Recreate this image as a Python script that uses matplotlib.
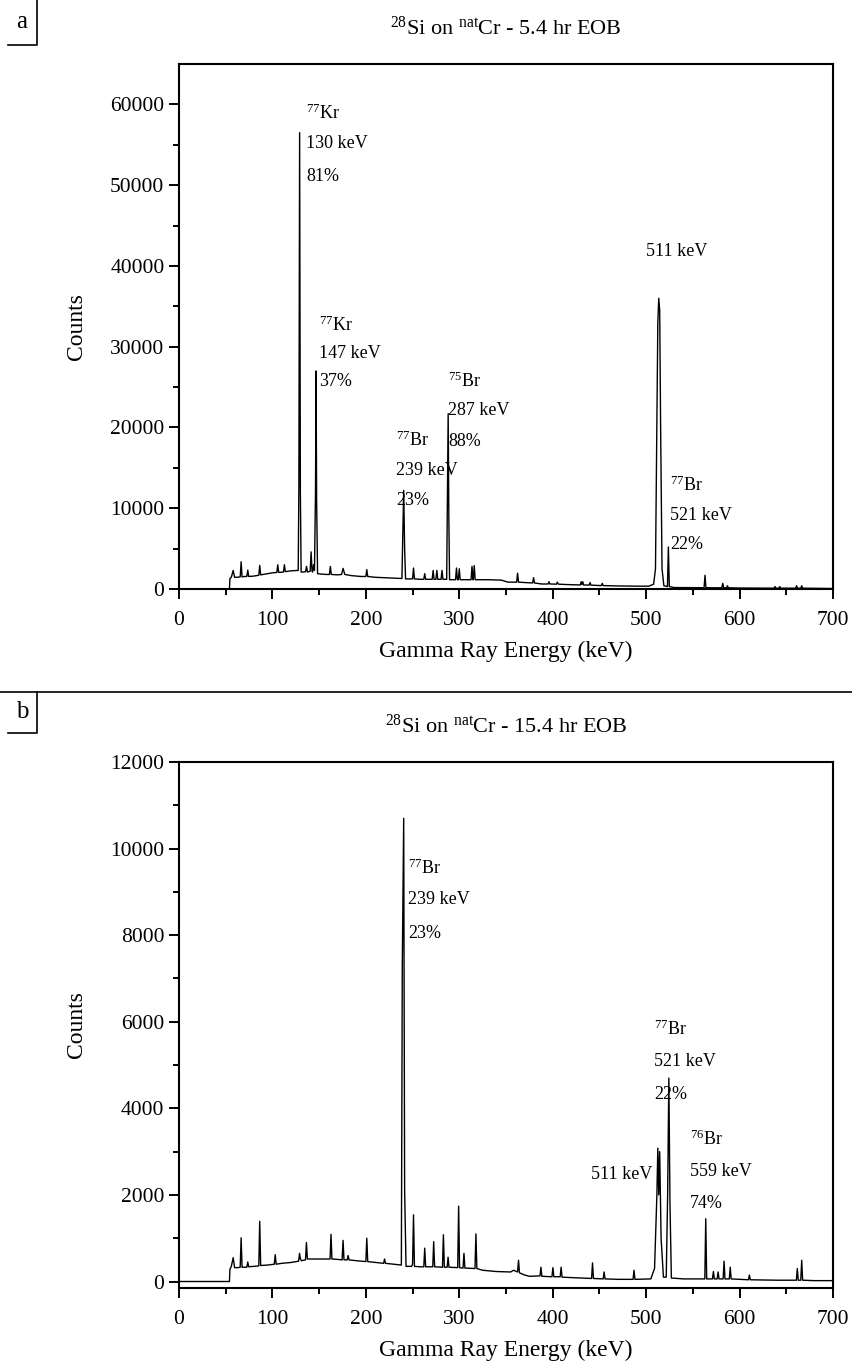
import matplotlib
matplotlib.use("Agg")
import matplotlib.pyplot as plt
from matplotlib.lines import Line2D

plt.rcParams["font.family"] = ["Liberation Serif", "DejaVu Serif"]
plt.rcParams["mathtext.fontset"] = "custom"
plt.rcParams["mathtext.rm"] = "Liberation Serif"
plt.rcParams["mathtext.default"] = "regular"

# ---- spectrum a : 5.4 hr EOB (vertices) ----
energy_a = [
    0, 54, 54.5, 56, 58, 59.5, 62, 65.5, 66.5, 67.5, 70, 72.6, 73.6, 74.6, 80,
    85.4, 86.4, 87.4, 95, 100, 104.7, 105.7, 106.7, 111.8, 112.8, 113.8, 120,
    127.6, 128.3, 129.1, 129.9, 130.7, 133, 135.5, 136.5, 137.5, 140.4, 141.4,
    142.4, 143, 144, 145, 146.1, 146.7, 147.3, 148.3, 152, 158, 161, 162, 163,
    170, 174, 175.6, 177.5, 185, 195, 200, 201, 202, 210, 220, 230, 238.6,
    239.6, 240.5, 241.5, 242.5, 246, 250, 251, 252, 258, 262, 263, 264, 268,
    271, 272, 273, 275, 276, 277, 280.5, 281.5, 282.5, 286.5, 287.4, 288.1,
    288.8, 289.6, 293, 296, 297, 298, 299, 300, 301, 305, 312.6, 313.6, 314.6,
    315, 316, 317, 330, 345, 352, 361.4, 362.4, 363.4, 370, 378.5, 379.5,
    380.5, 388, 395, 396, 397, 404, 405, 406, 415, 429.5, 430.5, 431.3, 432.2,
    433, 439, 440, 441, 452, 453, 454, 470, 490, 503, 508, 510, 511.5, 512.5,
    513.5, 514.5, 515.5, 517, 519, 522.8, 523.8, 524.8, 530, 545, 555, 562, 563,
    564, 570, 581, 582, 583, 586, 587, 588, 600, 637, 638, 639, 642, 643, 644,
    660, 661, 662, 665.5, 666.5, 667.5, 680, 700,
]
counts_a = [
    0, 0, 1300, 1450, 2300, 1450, 1450, 1500, 3370, 1500, 1550, 1550, 2340,
    1550, 1600, 1700, 2920, 1750, 1900, 2000, 2050, 3000, 2050, 2100, 3000,
    2150, 2250, 2300, 12600, 56500, 12000, 2100, 2100, 2150, 2800, 2100, 2200,
    4600, 2200, 2100, 3000, 2300, 12000, 27000, 11000, 1900, 1850, 1800, 1800,
    2800, 1800, 1750, 1800, 2550, 1800, 1650, 1550, 1550, 2400, 1550, 1450,
    1400, 1350, 1300, 7000, 12200, 5000, 1250, 1250, 1250, 2600, 1250, 1200,
    1200, 1900, 1200, 1200, 1200, 2300, 1200, 1200, 2300, 1200, 1200, 2300,
    1200, 1200, 12000, 21700, 9000, 1150, 1150, 1150, 2600, 1150, 1150, 2500,
    1150, 1150, 1150, 2800, 1150, 1150, 2900, 1150, 1150, 1100, 850, 850, 1960,
    850, 800, 750, 1400, 750, 620, 620, 900, 620, 600, 850, 600, 550, 500, 900,
    550, 900, 500, 480, 800, 480, 420, 700, 420, 380, 350, 350, 600, 2500,
    20000, 33000, 36000, 34500, 20000, 2500, 400, 300, 5200, 300, 180, 170,
    160, 160, 1700, 160, 150, 150, 700, 150, 150, 400, 150, 120, 100, 300, 100,
    100, 300, 100, 100, 400, 100, 100, 400, 100, 80, 60,
]

# ---- spectrum b : 15.4 hr EOB ----
energy_b = [
    0, 54, 54.5, 56, 58, 59.5, 63, 65.5, 66.5, 67.5, 72.6, 73.6, 74.6, 80,
    85.4, 86.4, 87.4, 95, 102, 103, 104, 110, 120, 128, 129, 130, 131, 135.4,
    136.4, 137.4, 142, 150, 161.7, 162.7, 163.7, 170, 174.6, 175.6, 176.6, 180,
    181, 182, 190, 200, 201, 202, 210, 219, 220, 221, 230, 238, 239, 240.5,
    241.5, 243, 249, 250, 251, 252, 258, 262, 263, 264, 271.6, 272.6, 273.6,
    282, 283, 284, 287, 288, 289, 298.3, 299.3, 300.3, 304, 305, 306, 316.8,
    317.8, 318.8, 325, 340, 355, 358, 362.4, 363.4, 364.4, 370, 375, 386.4,
    387.4, 388.4, 399.2, 400.2, 401.2, 408, 409, 410, 430, 441.6, 442.6, 443.6,
    454, 455, 456, 470, 486, 487, 488, 505, 509, 511.5, 512.5, 513.5, 514.5,
    516, 518.5, 521.5, 523, 524.3, 525.5, 527, 540, 562.8, 563.8, 564.8, 571,
    572, 573, 576, 577, 578, 582.4, 583.4, 584.4, 589, 590, 591, 600, 609.5,
    610.5, 611.5, 640, 660.8, 661.8, 662.8, 665.5, 666.5, 667.5, 680, 700,
]
counts_b = [
    0, 0, 280, 350, 550, 320, 320, 330, 1010, 330, 330, 450, 340, 350, 360,
    1390, 370, 380, 400, 620, 400, 420, 440, 470, 650, 520, 480, 500, 900, 520,
    520, 520, 520, 1090, 520, 510, 500, 950, 500, 500, 600, 500, 480, 460,
    1000, 460, 440, 420, 520, 420, 400, 380, 7300, 10700, 2100, 350, 350, 400,
    1540, 350, 340, 340, 770, 340, 340, 920, 340, 330, 1080, 330, 330, 560,
    330, 320, 1740, 320, 310, 650, 310, 300, 1100, 300, 260, 230, 220, 260,
    220, 490, 200, 150, 120, 130, 330, 120, 110, 320, 110, 110, 330, 100, 80,
    70, 430, 70, 60, 220, 60, 50, 50, 260, 50, 60, 300, 2000, 3080, 2000, 3000,
    1000, 100, 100, 2000, 4700, 1800, 80, 60, 60, 1450, 60, 60, 230, 60, 60,
    220, 60, 60, 470, 60, 60, 330, 60, 50, 40, 150, 40, 30, 30, 300, 30, 30,
    490, 30, 20, 20,
]

titles = [r"$^{28}$Si on $^{nat}$Cr - 5.4 hr EOB", r"$^{28}$Si on $^{nat}$Cr - 15.4 hr EOB"]
panel_tags = ["a", "b"]

# annotations: (x, y, text, ha)
notes_a = [
    (136.4, 58900, r"$^{77}$Kr", "left"), (136.4, 55200, "130 keV", "left"), (136.4, 51100, "81%", "left"),
    (150.3, 32600, r"$^{77}$Kr", "left"), (150.3, 29100, "147 keV", "left"), (150.3, 25700, "37%", "left"),
    (232.6, 18400, r"$^{77}$Br", "left"), (232.6, 14700, "239 keV", "left"), (232.6, 10900, "23%", "left"),
    (288.2, 25700, r"$^{75}$Br", "left"), (288.2, 22100, "287 keV", "left"), (288.2, 18300, "88%", "left"),
    (533.0, 41800, "511 keV", "center"),
    (525.7, 12800, r"$^{77}$Br", "left"), (525.7, 9100, "521 keV", "left"), (525.7, 5550, "22%", "left"),
]
notes_b = [
    (245.5, 9550, r"$^{77}$Br", "left"), (245.5, 8820, "239 keV", "left"), (245.5, 8030, "23%", "left"),
    (508.6, 5820, r"$^{77}$Br", "left"), (508.6, 5080, "521 keV", "left"), (508.6, 4320, "22%", "left"),
    (506.4, 2470, "511 keV", "right"),
    (547.0, 3280, r"$^{76}$Br", "left"), (547.0, 2540, "559 keV", "left"), (547.0, 1800, "74%", "left"),
]

W, H = 853, 1371
fig = plt.figure(figsize=(W / 100, H / 100), dpi=100)


def px_box(left, top, right, bottom):
    return [left / W, 1 - bottom / H, (right - left) / W, (bottom - top) / H]


def draw_panel(ax, energy, counts, notes, ylim, ymajor, yminor):
    ax.plot(energy, counts, color="black", lw=1.0)
    ax.set_xlim(0, 700)
    ax.set_ylim(*ylim)
    ax.set_xticks(range(0, 701, 100))
    ax.set_xticks(range(50, 700, 100), minor=True)
    ax.set_yticks(range(0, int(ylim[1]) + 1, ymajor))
    ax.set_yticks(range(yminor, int(ylim[1]), ymajor), minor=True)
    ax.tick_params(which="major", direction="out", length=7, width=1.4, labelsize=15.5)
    ax.tick_params(axis="x", which="major", pad=8.5)
    ax.tick_params(which="minor", direction="out", length=4, width=1.4)
    for s in ax.spines.values():
        s.set_linewidth(1.5)
    ax.set_xlabel("Gamma Ray Energy (keV)", fontsize=17, labelpad=8)
    ax.set_ylabel("Counts", fontsize=17, labelpad=17)
    for x, y, t, ha in notes:
        ax.text(x, y, t, fontsize=13, ha=ha, va="center")


ax_a = fig.add_axes(px_box(179, 64, 833, 589))
draw_panel(ax_a, energy_a, counts_a, notes_a, (0, 65000), 10000, 5000)
ax_a.set_title(titles[0], fontsize=16, pad=21)

ax_b = fig.add_axes(px_box(179, 762, 833, 1288))
draw_panel(ax_b, energy_b, counts_b, notes_b, (-150, 12000), 2000, 1000)
ax_b.set_title(titles[1], fontsize=16, pad=21)

# panel tags with L-shaped boxes and separator line
def fig_line(xs, ys):
    fig.add_artist(Line2D([x / W for x in xs], [1 - y / H for y in ys], color="black", lw=1.2))

fig_line([37, 37, 8], [0, 45, 45])
fig.text(22 / W, 1 - 22 / H, panel_tags[0], fontsize=18, ha="center", va="center")
fig_line([0, W], [692, 692])
fig_line([37, 37, 8], [692, 733, 733])
fig.text(22 / W, 1 - 712 / H, panel_tags[1], fontsize=18, ha="center", va="center")

fig.savefig("out.png", dpi=100, facecolor="white")
